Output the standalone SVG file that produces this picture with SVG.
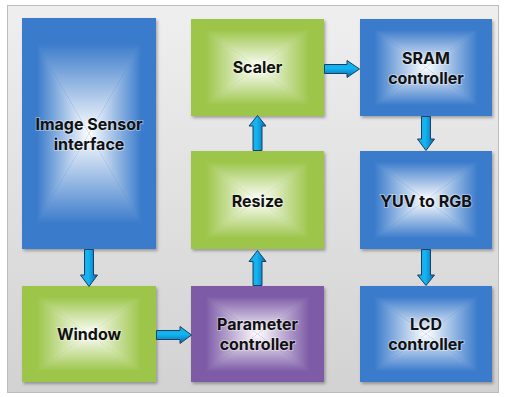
<svg xmlns="http://www.w3.org/2000/svg" width="505" height="397" viewBox="0 0 505 397">
  <defs>
    <style>
      .lbl { font-family: Inter, "Open Sans", "DejaVu Sans", sans-serif; font-weight: bold; font-size: 16px; fill: #111; text-anchor: middle; paint-order: stroke; stroke: #ffffff; stroke-opacity: 0.35; stroke-width: 2px; }
      .arrow { stroke: #1d3f63; stroke-width: 1; stroke-linejoin: miter; }
      .shadow { filter: url(#drop); }
    </style>
    <filter id="drop" x="-10%" y="-10%" width="125%" height="125%">
      <feDropShadow dx="1.5" dy="2" stdDeviation="1.5" flood-color="#000" flood-opacity="0.3"/>
    </filter>
    <linearGradient id="panelFill" x1="0" y1="0" x2="0" y2="1">
      <stop offset="0" stop-color="#efefef"/>
      <stop offset="1" stop-color="#d2d2d2"/>
    </linearGradient>
    <!-- arrow fills: across the shaft -->
    <linearGradient id="arrV" x1="0" y1="0" x2="1" y2="0">
      <stop offset="0" stop-color="#1aa6e6"/>
      <stop offset="0.45" stop-color="#12b6f2"/>
      <stop offset="1" stop-color="#0a66ad"/>
    </linearGradient>
    <linearGradient id="arrH" x1="0" y1="0" x2="0" y2="1">
      <stop offset="0" stop-color="#1aa6e6"/>
      <stop offset="0.45" stop-color="#12b6f2"/>
      <stop offset="1" stop-color="#0a66ad"/>
    </linearGradient>
    <!-- rectangular "from centre" fills, built from four triangles -->
    <linearGradient id="bT" x1="0" y1="0" x2="0" y2="1"><stop offset="0" stop-color="#3b7bcb"/><stop offset="0.22" stop-color="#3b7bcb"/><stop offset="1" stop-color="#ffffff"/></linearGradient>
    <linearGradient id="bB" x1="0" y1="1" x2="0" y2="0"><stop offset="0" stop-color="#3b7bcb"/><stop offset="0.22" stop-color="#3b7bcb"/><stop offset="1" stop-color="#ffffff"/></linearGradient>
    <linearGradient id="bL" x1="0" y1="0" x2="1" y2="0"><stop offset="0" stop-color="#3b7bcb"/><stop offset="0.22" stop-color="#3b7bcb"/><stop offset="1" stop-color="#ffffff"/></linearGradient>
    <linearGradient id="bR" x1="1" y1="0" x2="0" y2="0"><stop offset="0" stop-color="#3b7bcb"/><stop offset="0.22" stop-color="#3b7bcb"/><stop offset="1" stop-color="#ffffff"/></linearGradient>
    <linearGradient id="gT" x1="0" y1="0" x2="0" y2="1"><stop offset="0" stop-color="#9cc549"/><stop offset="0.22" stop-color="#9cc549"/><stop offset="1" stop-color="#ffffff"/></linearGradient>
    <linearGradient id="gB" x1="0" y1="1" x2="0" y2="0"><stop offset="0" stop-color="#9cc549"/><stop offset="0.22" stop-color="#9cc549"/><stop offset="1" stop-color="#ffffff"/></linearGradient>
    <linearGradient id="gL" x1="0" y1="0" x2="1" y2="0"><stop offset="0" stop-color="#9cc549"/><stop offset="0.22" stop-color="#9cc549"/><stop offset="1" stop-color="#ffffff"/></linearGradient>
    <linearGradient id="gR" x1="1" y1="0" x2="0" y2="0"><stop offset="0" stop-color="#9cc549"/><stop offset="0.22" stop-color="#9cc549"/><stop offset="1" stop-color="#ffffff"/></linearGradient>
    <linearGradient id="pT" x1="0" y1="0" x2="0" y2="1"><stop offset="0" stop-color="#7d5ba7"/><stop offset="0.22" stop-color="#7d5ba7"/><stop offset="1" stop-color="#ffffff"/></linearGradient>
    <linearGradient id="pB" x1="0" y1="1" x2="0" y2="0"><stop offset="0" stop-color="#7d5ba7"/><stop offset="0.22" stop-color="#7d5ba7"/><stop offset="1" stop-color="#ffffff"/></linearGradient>
    <linearGradient id="pL" x1="0" y1="0" x2="1" y2="0"><stop offset="0" stop-color="#7d5ba7"/><stop offset="0.22" stop-color="#7d5ba7"/><stop offset="1" stop-color="#ffffff"/></linearGradient>
    <linearGradient id="pR" x1="1" y1="0" x2="0" y2="0"><stop offset="0" stop-color="#7d5ba7"/><stop offset="0.22" stop-color="#7d5ba7"/><stop offset="1" stop-color="#ffffff"/></linearGradient>
  </defs>

  <!-- background panel -->
  <rect x="7.5" y="5.5" width="491" height="387" fill="url(#panelFill)" stroke="#bcbcbc" stroke-width="1"/>

  <!-- Image Sensor interface: x 22..156, y 18..249, centre (89,133.5) -->
  <g id="image-sensor">
    <rect class="shadow" x="22" y="18" width="134" height="231" fill="#3b7bcb"/>
    <polygon points="22,18 156,18 89,133.5" fill="url(#bT)"/>
    <polygon points="22,249 156,249 89,133.5" fill="url(#bB)"/>
    <polygon points="22,18 22,249 89,133.5" fill="url(#bL)"/>
    <polygon points="156,18 156,249 89,133.5" fill="url(#bR)"/>
    <text class="lbl" x="89" y="129.5">Image Sensor</text>
    <text class="lbl" x="89" y="150">interface</text>
  </g>

  <!-- Window: x 22..156, y 286..382, centre (89,334) -->
  <g id="window">
    <rect class="shadow" x="22" y="286" width="134" height="96" fill="#9cc549"/>
    <polygon points="22,286 156,286 89,334" fill="url(#gT)"/>
    <polygon points="22,382 156,382 89,334" fill="url(#gB)"/>
    <polygon points="22,286 22,382 89,334" fill="url(#gL)"/>
    <polygon points="156,286 156,382 89,334" fill="url(#gR)"/>
    <text class="lbl" x="89" y="340">Window</text>
  </g>

  <!-- Scaler: x 191..324, y 19..116, centre (257.5,67.5) -->
  <g id="scaler">
    <rect class="shadow" x="191" y="19" width="133" height="97" fill="#9cc549"/>
    <polygon points="191,19 324,19 257.5,67.5" fill="url(#gT)"/>
    <polygon points="191,116 324,116 257.5,67.5" fill="url(#gB)"/>
    <polygon points="191,19 191,116 257.5,67.5" fill="url(#gL)"/>
    <polygon points="324,19 324,116 257.5,67.5" fill="url(#gR)"/>
    <text class="lbl" x="257.5" y="72.7">Scaler</text>
  </g>

  <!-- Resize: x 191..324, y 151..249, centre (257.5,200) -->
  <g id="resize">
    <rect class="shadow" x="191" y="151" width="133" height="98" fill="#9cc549"/>
    <polygon points="191,151 324,151 257.5,200" fill="url(#gT)"/>
    <polygon points="191,249 324,249 257.5,200" fill="url(#gB)"/>
    <polygon points="191,151 191,249 257.5,200" fill="url(#gL)"/>
    <polygon points="324,151 324,249 257.5,200" fill="url(#gR)"/>
    <text class="lbl" x="257.5" y="206.5">Resize</text>
  </g>

  <!-- Parameter controller: x 191..324, y 286..382, centre (257.5,334) -->
  <g id="parameter-controller">
    <rect class="shadow" x="191" y="286" width="133" height="96" fill="#7d5ba7"/>
    <polygon points="191,286 324,286 257.5,334" fill="url(#pT)"/>
    <polygon points="191,382 324,382 257.5,334" fill="url(#pB)"/>
    <polygon points="191,286 191,382 257.5,334" fill="url(#pL)"/>
    <polygon points="324,286 324,382 257.5,334" fill="url(#pR)"/>
    <text class="lbl" x="257.5" y="330">Parameter</text>
    <text class="lbl" x="257.5" y="349.5">controller</text>
  </g>

  <!-- SRAM controller: x 360..492, y 19..116, centre (426,67.5) -->
  <g id="sram-controller">
    <rect class="shadow" x="360" y="19" width="132" height="97" fill="#3b7bcb"/>
    <polygon points="360,19 492,19 426,67.5" fill="url(#bT)"/>
    <polygon points="360,116 492,116 426,67.5" fill="url(#bB)"/>
    <polygon points="360,19 360,116 426,67.5" fill="url(#bL)"/>
    <polygon points="492,19 492,116 426,67.5" fill="url(#bR)"/>
    <text class="lbl" x="426" y="64">SRAM</text>
    <text class="lbl" x="426" y="83.5">controller</text>
  </g>

  <!-- YUV to RGB: x 360..492, y 151..249, centre (426,200) -->
  <g id="yuv-to-rgb">
    <rect class="shadow" x="360" y="151" width="132" height="98" fill="#3b7bcb"/>
    <polygon points="360,151 492,151 426,200" fill="url(#bT)"/>
    <polygon points="360,249 492,249 426,200" fill="url(#bB)"/>
    <polygon points="360,151 360,249 426,200" fill="url(#bL)"/>
    <polygon points="492,151 492,249 426,200" fill="url(#bR)"/>
    <text class="lbl" x="426" y="206.5">YUV to RGB</text>
  </g>

  <!-- LCD controller: x 360..492, y 286..382, centre (426,334) -->
  <g id="lcd-controller">
    <rect class="shadow" x="360" y="286" width="132" height="96" fill="#3b7bcb"/>
    <polygon points="360,286 492,286 426,334" fill="url(#bT)"/>
    <polygon points="360,382 492,382 426,334" fill="url(#bB)"/>
    <polygon points="360,286 360,382 426,334" fill="url(#bL)"/>
    <polygon points="492,286 492,382 426,334" fill="url(#bR)"/>
    <text class="lbl" x="426" y="330">LCD</text>
    <text class="lbl" x="426" y="349.5">controller</text>
  </g>

  <!-- block-arrow connectors -->
  <g id="connectors">
    <!-- Image Sensor interface -> Window -->
    <path class="arrow" fill="url(#arrV)" d="M84.5,249.5 H93.5 V275 H97.5 L89,286.5 L80.5,275 H84.5 Z"/>
    <!-- Window -> Parameter controller -->
    <path class="arrow" fill="url(#arrH)" d="M156.5,330.5 V339.5 H180 V343.5 L191.5,335 L180,326.5 V330.5 Z"/>
    <!-- Parameter controller -> Resize -->
    <path class="arrow" fill="url(#arrV)" d="M253,285.5 H262 V261.5 H266 L257.5,250.5 L249,261.5 H253 Z"/>
    <!-- Resize -> Scaler -->
    <path class="arrow" fill="url(#arrV)" d="M253,150.5 H262 V126 H266 L257.5,115.5 L249,126 H253 Z"/>
    <!-- Scaler -> SRAM controller -->
    <path class="arrow" fill="url(#arrH)" d="M324.5,64.5 V73.5 H347 V77.5 L359.5,69 L347,60.5 V64.5 Z"/>
    <!-- SRAM controller -> YUV to RGB -->
    <path class="arrow" fill="url(#arrV)" d="M421.5,116.5 H430.5 V139 H434.5 L426,150.5 L417.5,139 H421.5 Z"/>
    <!-- YUV to RGB -> LCD controller -->
    <path class="arrow" fill="url(#arrV)" d="M421.5,249.5 H430.5 V275 H434.5 L426,285.5 L417.5,275 H421.5 Z"/>
  </g>
</svg>
